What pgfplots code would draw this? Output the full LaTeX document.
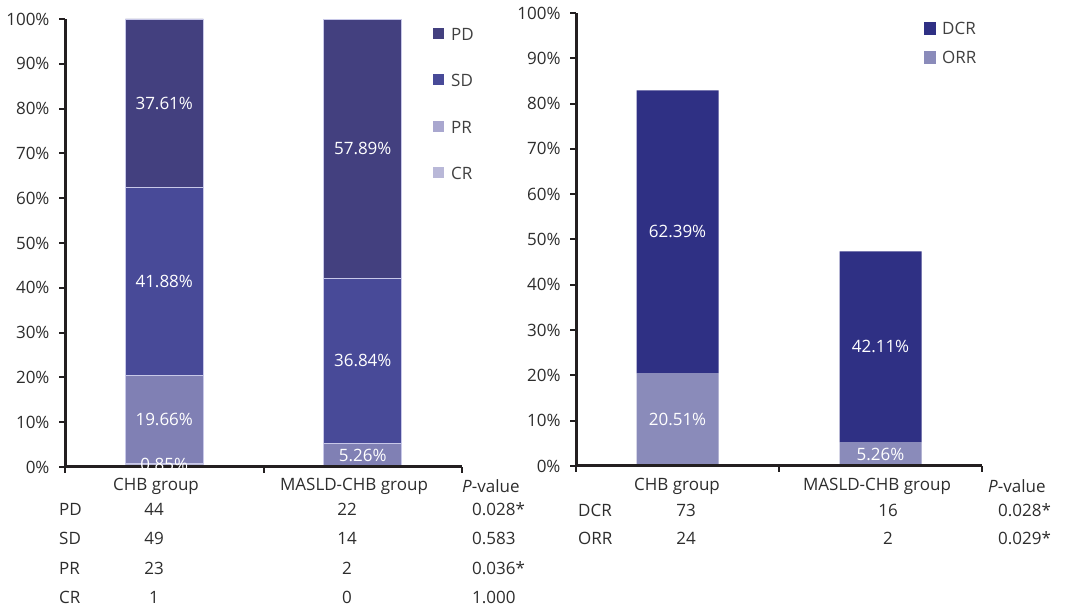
\documentclass[border=0pt]{standalone}
\usepackage{pgfplots}
\usepackage{pgfplotstable}
\pgfplotsset{compat=1.18}
\usepackage{fontspec}
\setmainfont{Open Sans}

\definecolor{pdcol}{RGB}{67,64,127}
\definecolor{sdcol}{RGB}{72,74,152}
\definecolor{prcol}{RGB}{128,128,180}
\definecolor{crcol}{RGB}{185,184,216}
\definecolor{prleg}{RGB}{169,167,207}
\definecolor{edgecol}{RGB}{200,200,232}
\definecolor{dcrcol}{RGB}{47,48,132}
\definecolor{orrcol}{RGB}{138,139,186}
\definecolor{axiscol}{RGB}{35,31,32}
\definecolor{txtcol}{RGB}{45,45,45}
\definecolor{legtxt}{RGB}{64,64,64}

% Response distribution (%) by group; labels shown inside the segments
\pgfplotstableread{
x cr crl pr prl sd sdl pd pdl
0 0.85 0.85\% 19.66 19.66\% 41.88 41.88\% 37.61 37.61\%
1 0    0      5.26  5.26\%  36.84 36.84\% 57.89 57.89\%
}\respdata

% ORR and the remaining part of DCR (%) by group
\pgfplotstableread{
x orr orrl dcr dcrl
0 20.51 20.51\% 62.39 62.39\%
1 5.26  5.26\%  42.11 42.11\%
}\ratedata

\newcommand{\fs}{\fontsize{17bp}{20bp}\selectfont}

\pgfplotsset{
  panel/.style={
    scale only axis,
    anchor=south west,
    xmin=-0.5, xmax=1.5,
    ymin=0, ymax=100,
    ytick={0,10,...,100},
    yticklabel={\pgfmathprintnumber{\tick}\%},
    xtick={-0.5,0.5,1.5},
    xticklabels={},
    /pgf/number format/assume math mode=true,
    axis x line*=bottom,
    axis y line*=left,
    axis line style={line width=3bp, color=axiscol, -},
    tick style={line width=2bp, color=axiscol},
    major tick length=6bp,
    tick align=outside,
    yticklabel style={font=\fs, text=txtcol, xshift=-6bp},
    ybar stacked,
    axis on top,
    clip=false,
    point meta=explicit symbolic,
    % stacked segments get their labels at the segment centre
    nodes near coords,
    every node near coord/.append style={font=\fs, text=white, anchor=center},
  },
}

\begin{document}
\begin{tikzpicture}[x=1bp, y=1bp, font=\fs]
\path[use as bounding box] (0,0) rectangle (1065,611);

% ---------- left panel: PD / SD / PR / CR ----------
\begin{axis}[panel,
  at={(65bp,144bp)}, width=397bp, height=448bp,
  bar width=78bp,
  every axis plot/.append style={draw=edgecol, line width=0.8bp},
]
\addplot[fill=crcol, every node near coord/.append style={yshift=1bp}]
  table[x=x, y=cr, meta=crl] {\respdata};
\addplot[fill=prcol] table[x=x, y=pr, meta=prl] {\respdata};
\addplot[fill=sdcol] table[x=x, y=sd, meta=sdl] {\respdata};
\addplot[fill=pdcol] table[x=x, y=pd, meta=pdl] {\respdata};
\end{axis}

% ---------- right panel: DCR / ORR ----------
\begin{axis}[panel,
  at={(576bp,145bp)}, width=406bp, height=453bp,
  bar width=82bp,
  every axis plot/.append style={draw=none},
]
\addplot[fill=orrcol] table[x=x, y=orr, meta=orrl] {\ratedata};
\addplot[fill=dcrcol] table[x=x, y=dcr, meta=dcrl] {\ratedata};
\end{axis}

% ---------- legends ----------
\begin{scope}[every node/.style={anchor=west, text=legtxt, inner sep=0pt}]
  \fill[pdcol] (433,571.5) rectangle +(11,11);   \node at (451,577) {PD};
  \fill[sdcol] (433,525.5) rectangle +(11,11);   \node at (451,531) {SD};
  \fill[prleg] (433,478.5) rectangle +(11,11);   \node at (451,484) {PR};
  \fill[crcol] (433,432.5) rectangle +(11,11);   \node at (451,438) {CR};

  \fill[dcrcol] (924,576) rectangle +(12,13);    \node at (942,582.5) {DCR};
  \fill[orrcol] (924,547) rectangle +(12,13);    \node at (942,553.5) {ORR};
\end{scope}

% ---------- counts and P-values below the panels ----------
\begin{scope}[every node/.style={text=txtcol, inner sep=0pt}]
  % left table
  \node at (156,124.5) {CHB group};
  \node at (354,124.5) {MASLD-CHB group};
  \node[anchor=west] at (462,124.5) {\textit{P}-value};
  \foreach \lab/\a/\b/\p [count=\i] in {PD/44/22/0.028*, SD/49/14/0.583, PR/23/2/0.036*, CR/1/0/1.000}{
    \pgfmathsetmacro\yy{611-509-(\i-1)*29.5}
    \node[anchor=west] at (59,\yy) {\lab};
    \node at (154,\yy) {\a};
    \node at (347,\yy) {\b};
    \node[anchor=west] at (472,\yy) {\p};
  }
  % right table
  \node at (677,124.5) {CHB group};
  \node at (877,124.5) {MASLD-CHB group};
  \node[anchor=west] at (988,124.5) {\textit{P}-value};
  \foreach \lab/\a/\b/\p [count=\i] in {DCR/73/16/0.028*, ORR/24/2/0.029*}{
    \pgfmathsetmacro\yy{611-510.5-(\i-1)*28}
    \node[anchor=west] at (578,\yy) {\lab};
    \node at (686,\yy) {\a};
    \node at (888,\yy) {\b};
    \node[anchor=west] at (998,\yy) {\p};
  }
\end{scope}
\end{tikzpicture}
\end{document}
